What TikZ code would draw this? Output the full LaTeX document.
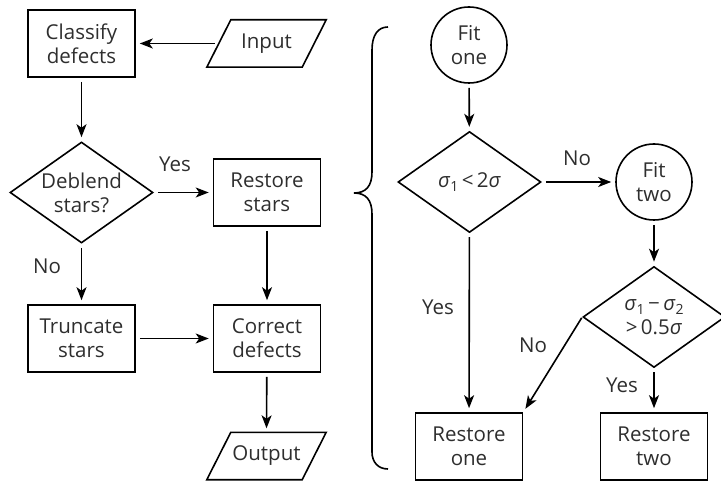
\documentclass[tikz,border=0pt]{standalone}
\usepackage{fontspec}
\setmainfont{Open Sans}
\usetikzlibrary{arrows.meta,shapes.geometric,calc}
\newcommand\lsub[1]{\raisebox{-0.35ex}{\fontsize{14}{14}\selectfont #1}}
\newcommand\sig{\textit{σ}}
\begin{document}
\begin{tikzpicture}[x=1pt,y=-1pt,
  every node/.style={font=\fontsize{20.5}{24}\selectfont, align=center, text=black!82},
  lw/.style={line width=1.6pt},
  proc/.style={draw, lw, rectangle, minimum width=107pt, minimum height=67pt, inner sep=0pt},
  dec/.style={draw, lw, diamond, shape aspect=1.42, minimum width=143pt, minimum height=101pt, inner sep=0pt},
  term/.style={draw, lw, circle, minimum size=76pt, inner sep=0pt},
  io/.style={rectangle, minimum width=119pt, minimum height=47pt, inner sep=0pt},
  arr/.style={lw, -{Stealth[length=13pt,width=10pt,inset=3.5pt]}, shorten >=4pt, shorten <=4pt},
  lab/.style={inner sep=0pt}
]
\useasboundingbox (0,0) rectangle (721,481);
% left flow
\node[proc] (cls) at (81.5,43.5) {Classify\\defects};
\node[io] (in) at (266.5,43.5) {Input};
\node[dec] (deb) at (81.5,192.5) {Deblend\\stars?};
\node[proc] (rs) at (267,192.5) {Restore\\stars};
\node[proc] (tr) at (81.5,338.5) {Truncate\\stars};
\node[proc] (cd) at (267,338.5) {Correct\\defects};
\node[io] (out) at (266.5,456) {Output};
\draw[lw] (in.south west) -- ($(in.north west)+(24,0)$) -- (in.north east) -- ($(in.south east)+(-24,0)$) -- cycle;
\draw[lw] (out.south west) -- ($(out.north west)+(24,0)$) -- (out.north east) -- ($(out.south east)+(-24,0)$) -- cycle;
% right flow
\node[term] (f1) at (469,45) {Fit\\one};
\node[dec] (d1) at (469.5,182) {\sig\lsub{1}\,<\,2\sig};
\node[term] (f2) at (654,182) {Fit\\two};
\node[dec, minimum width=142pt] (d2) at (654,317) {\sig\lsub{1}\,−\,\sig\lsub{2}\\>\,0.5\sig};
\node[proc] (r1) at (469,446.5) {Restore\\one};
\node[proc] (r2) at (654,446.5) {Restore\\two};
% arrows
\draw[arr] ($(in.west)+(12,0)$) -- (cls.east);
\draw[arr] (cls) -- (deb);
\draw[arr] (deb.east) -- (rs.west);
\draw[arr] (rs) -- (cd);
\draw[arr] (deb) -- (tr);
\draw[arr] (tr) -- (cd);
\draw[arr] (cd) -- (out.north);
\draw[arr] (f1) -- (d1);
\draw[arr] (d1.east) -- (f2);
\draw[arr] (f2) -- (d2);
\draw[arr] (d1) -- (r1);
\draw[arr, shorten <=1pt] (d2.west) -- (r1.north east);
\draw[arr] (d2) -- (r2);
% labels
\node[lab] (y1) at (175,164) {Yes};
\node[lab] (n1) at (47,266) {No};
\node[lab] (n2) at (577,158) {No};
\node[lab] (y2) at (438,307) {Yes};
\node[lab] (n3) at (533,345) {No};
\node[lab] (y3) at (622,385) {Yes};
% brace
\draw[lw] (388,27) .. controls (378,27) and (372,35) .. (372,50) -- (372,172)
  .. controls (372,186) and (366,193) .. (354,193)
  .. controls (366,193) and (372,200) .. (372,214) -- (372,452)
  .. controls (372,462) and (378,469) .. (388,469);
\end{tikzpicture}
\end{document}
